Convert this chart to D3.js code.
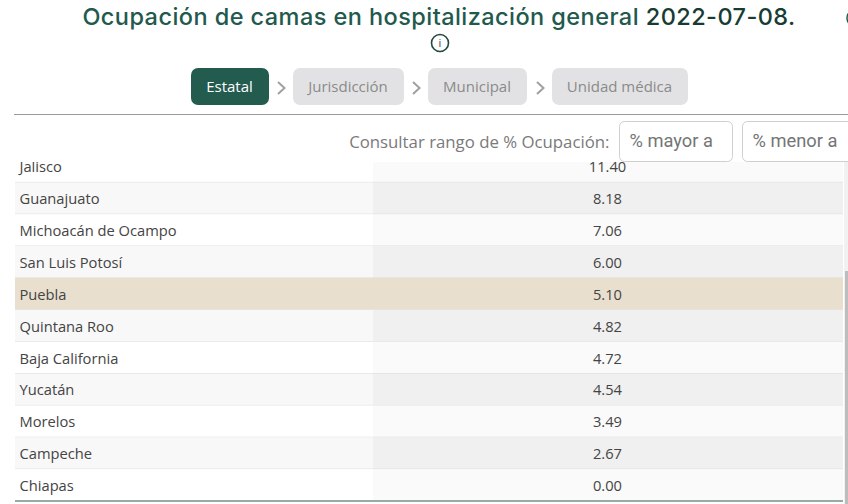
<!DOCTYPE html>
<html>
<head>
<meta charset="utf-8">
<script src="https://cdn.jsdelivr.net/npm/d3@7"></script>
<style>
html, body { margin: 0; padding: 0; background: #fff; overflow: hidden; }
svg { display: block; }
text { font-family: "Open Sans", sans-serif; }
</style>
</head>
<body>
<script>
// data
const ESTADOS = ["Jalisco", "Guanajuato", "Michoacán de Ocampo", "San Luis Potosí", "Puebla", "Quintana Roo",
  "Baja California", "Yucatán", "Morelos", "Campeche", "Chiapas"]
const OCUPACION = [11.40, 8.18, 7.06, 6.00, 5.10, 4.82, 4.72, 4.54, 3.49, 2.67, 0.00]
const NIVELES = ["Estatal", "Jurisdicción", "Municipal", "Unidad médica"]
const NIVEL_X = [191, 293, 428, 552]
const NIVEL_W = [78, 111, 99, 136]
const FILTROS = ["% mayor a", "% menor a"]
const SELECCION = "Puebla"

const svg = d3.select("body").append("svg").attr("width", 848).attr("height", 504)

// clip so the first row is cut under the filter bar
svg.append("defs").append("clipPath").attr("id", "tabla")
  .append("rect").attr("x", 0).attr("y", 162).attr("width", 848).attr("height", 342)

const y = d3.scaleBand().domain(ESTADOS).range([150.5, 501])
const tabla = svg.append("g").attr("clip-path", "url(#tabla)")

const filas = tabla.selectAll(".fila").data(ESTADOS.map((e, i) => ({estado: e, valor: OCUPACION[i], i: i})))
  .enter().append("g").attr("class", "fila")

filas.append("rect")
  .attr("x", 15).attr("width", 358)
  .attr("y", d => y(d.estado)).attr("height", y.bandwidth())
  .attr("fill", d => d.estado === SELECCION ? "#e9dfce" : (d.i % 2 ? "#f8f8f8" : "#ffffff"))
filas.append("rect")
  .attr("x", 373).attr("width", 470)
  .attr("y", d => y(d.estado)).attr("height", y.bandwidth())
  .attr("fill", d => d.estado === SELECCION ? "#e9dfce" : (d.i % 2 ? "#f0f0f0" : "#fafafa"))
filas.append("line")
  .attr("x1", 15).attr("x2", 843)
  .attr("y1", d => y(d.estado) + y.bandwidth()).attr("y2", d => y(d.estado) + y.bandwidth())
  .attr("stroke", d => d.i === ESTADOS.length - 1 ? "#2f5a50" : "#dcdcdc")
  .attr("stroke-width", d => d.i === ESTADOS.length - 1 ? 1.2 : 1)
filas.append("text")
  .attr("x", 19.5).attr("y", d => y(d.estado) + y.bandwidth() / 2 + 6)
  .attr("font-size", 14.7).attr("fill", "#444")
  .text(d => d.estado)
filas.append("text")
  .attr("x", 607.5).attr("y", d => y(d.estado) + y.bandwidth() / 2 + 6)
  .attr("text-anchor", "middle").attr("font-size", 14.7).attr("fill", "#444")
  .text(d => d.valor.toFixed(2))

// scrollbar
svg.append("rect").attr("x", 844).attr("y", 162).attr("width", 4).attr("height", 342).attr("fill", "#f1f1f1")
svg.append("rect").attr("x", 845).attr("y", 271).attr("width", 3).attr("height", 233).attr("fill", "#bdbdbd")

// title
const titulo = svg.append("text").attr("x", 439).attr("y", 25)
  .attr("text-anchor", "middle").attr("font-size", 23.5).attr("font-weight", 500)
  .attr("letter-spacing", 0.44)
  .style("font-family", "Inter, sans-serif")
titulo.append("tspan").attr("fill", "#22594d").text("Ocupación de camas en hospitalización general ")
titulo.append("tspan").attr("fill", "#173c34").text("2022-07-08.")

// info icon
const info = svg.append("g").attr("transform", "translate(440,43)")
info.append("circle").attr("r", 8.5).attr("fill", "none").attr("stroke", "#1f4a40").attr("stroke-width", 1.6)
info.append("text").attr("y", 4).attr("text-anchor", "middle").attr("font-size", 11).attr("fill", "#1f4a40").text("i")

// next icon, cut by the window edge
svg.append("circle").attr("cx", 856).attr("cy", 18).attr("r", 9)
  .attr("fill", "none").attr("stroke", "#22594d").attr("stroke-width", 1.5)

// level buttons
const niveles = svg.selectAll(".nivel").data(NIVELES).enter().append("g").attr("class", "nivel")
niveles.append("rect")
  .attr("x", (d, i) => NIVEL_X[i]).attr("y", 68).attr("width", (d, i) => NIVEL_W[i]).attr("height", 37)
  .attr("rx", 7).attr("fill", (d, i) => i === 0 ? "#235c4f" : "#e2e2e4")
niveles.append("text")
  .attr("x", (d, i) => NIVEL_X[i] + NIVEL_W[i] / 2 - 0.5).attr("y", 92)
  .attr("text-anchor", "middle").attr("font-size", 15)
  .attr("fill", (d, i) => i === 0 ? "#fff" : "#8a8a8a")
  .text(d => d)
svg.selectAll(".flecha").data(NIVELES.slice(1)).enter().append("path")
  .attr("class", "flecha")
  .attr("d", (d, i) => `M${NIVEL_X[i + 1] - 15},82 l6.5,6 l-6.5,6`)
  .attr("fill", "none").attr("stroke", "#a0a0a0").attr("stroke-width", 2)

svg.append("line").attr("x1", 14).attr("x2", 848).attr("y1", 114.5).attr("y2", 114.5).attr("stroke", "#9a9a9a")

// range filter
svg.append("text").attr("x", 609.5).attr("y", 147.5).attr("text-anchor", "end")
  .attr("font-size", 16.8).attr("fill", "#7a7a7a").text("Consultar rango de % Ocupación:")
const filtros = svg.selectAll(".filtro").data(FILTROS).enter().append("g").attr("class", "filtro")
filtros.append("rect")
  .attr("x", (d, i) => 619.5 + i * 123).attr("y", 121.5).attr("width", 113).attr("height", 40)
  .attr("rx", 5).attr("fill", "#fff").attr("stroke", "#cfcfcf")
filtros.append("text")
  .attr("x", (d, i) => 629.5 + i * 123).attr("y", 147)
  .attr("font-size", 18.3).attr("fill", "#757575")
  .style("font-family", "Roboto, sans-serif")
  .text(d => d)
</script>
</body>
</html>
